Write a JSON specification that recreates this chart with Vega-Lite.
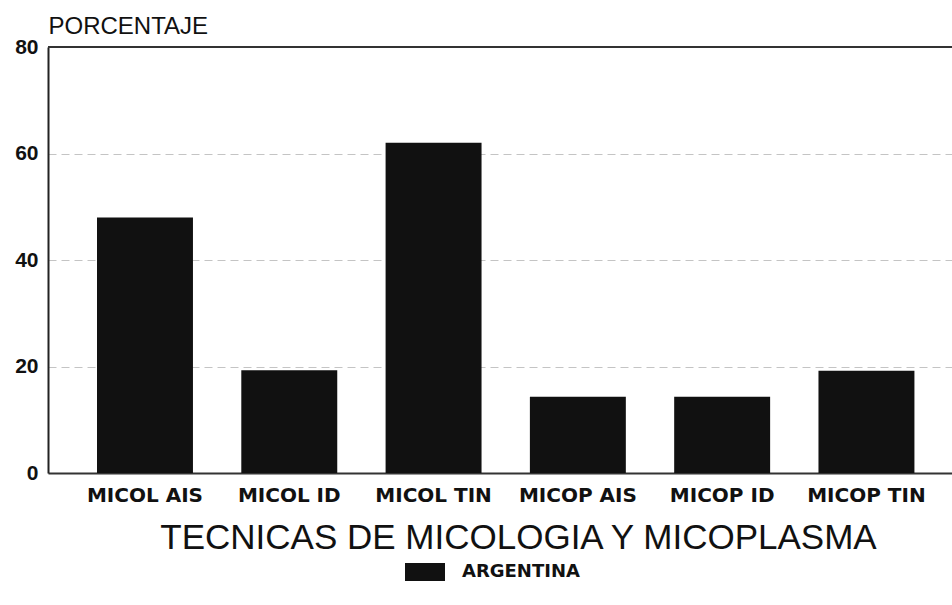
{
  "$schema": "https://vega.github.io/schema/vega-lite/v6.json",
  "autosize": "none",
  "width": 904,
  "height": 426,
  "padding": {"left": 48, "top": 47, "right": 0, "bottom": 132},
  "background": "white",
  "config": {
    "view": {"stroke": null},
    "font": "Liberation Sans"
  },
  "data": {
    "values": [
      {"tecnica": "MICOL AIS", "pais": "ARGENTINA", "porcentaje": 48},
      {"tecnica": "MICOL ID", "pais": "ARGENTINA", "porcentaje": 19.3},
      {"tecnica": "MICOL TIN", "pais": "ARGENTINA", "porcentaje": 62},
      {"tecnica": "MICOP AIS", "pais": "ARGENTINA", "porcentaje": 14.3},
      {"tecnica": "MICOP ID", "pais": "ARGENTINA", "porcentaje": 14.3},
      {"tecnica": "MICOP TIN", "pais": "ARGENTINA", "porcentaje": 19.2}
    ]
  },
  "layer": [
    {
      "mark": {"type": "bar", "color": "#111111"},
      "encoding": {
        "x": {
          "field": "tecnica",
          "type": "nominal",
          "sort": null,
          "scale": {"paddingInner": 0.335, "paddingOuter": 0.3, "align": 0.566},
          "axis": {
            "title": "TECNICAS DE MICOLOGIA Y MICOPLASMA",
            "titleFontSize": 35,
            "titleFontWeight": "normal",
            "titleColor": "#111",
            "titlePadding": 15,
            "titleAnchor": "middle",
            "titleX": 470,
            "labelAngle": 0,
            "labelFont": "DejaVu Sans",
            "labelFontSize": 20,
            "labelFontWeight": "bold",
            "labelColor": "#111",
            "labelPadding": 12,
            "ticks": false,
            "domainColor": "#333",
            "domainWidth": 2
          }
        },
        "y": {
          "field": "porcentaje",
          "type": "quantitative",
          "scale": {"domain": [0, 80]},
          "axis": {
            "values": [0, 20, 40, 60, 80],
            "title": "PORCENTAJE",
            "titleAngle": 0,
            "titleAlign": "left",
            "titleBaseline": "alphabetic",
            "titleX": 0,
            "titleY": -14,
            "titleFontSize": 24,
            "titleFontWeight": "normal",
            "titleColor": "#111",
            "labelFontSize": 21,
            "labelFontWeight": "bold",
            "labelColor": "#111",
            "labelPadding": 10,
            "ticks": false,
            "domainColor": "#222",
            "domainWidth": 2,
            "grid": true,
            "gridColor": "#c4c4c4",
            "gridDash": [8, 5],
            "gridWidth": 1
          }
        },
        "color": {
          "field": "pais",
          "type": "nominal",
          "scale": {"range": ["#111111"]},
          "legend": {
            "title": null,
            "orient": "none",
            "legendX": 357,
            "legendY": 505,
            "symbolType": "M-1,-0.45H1V0.45H-1Z",
            "symbolSize": 1600,
            "symbolStrokeWidth": 0,
            "labelFont": "DejaVu Sans",
            "labelFontSize": 18,
            "labelFontWeight": "bold",
            "labelColor": "#111",
            "labelOffset": 17
          }
        }
      }
    },
    {
      "mark": {"type": "rule", "color": "#333333", "strokeWidth": 2},
      "encoding": {"y": {"datum": 80}}
    }
  ]
}
